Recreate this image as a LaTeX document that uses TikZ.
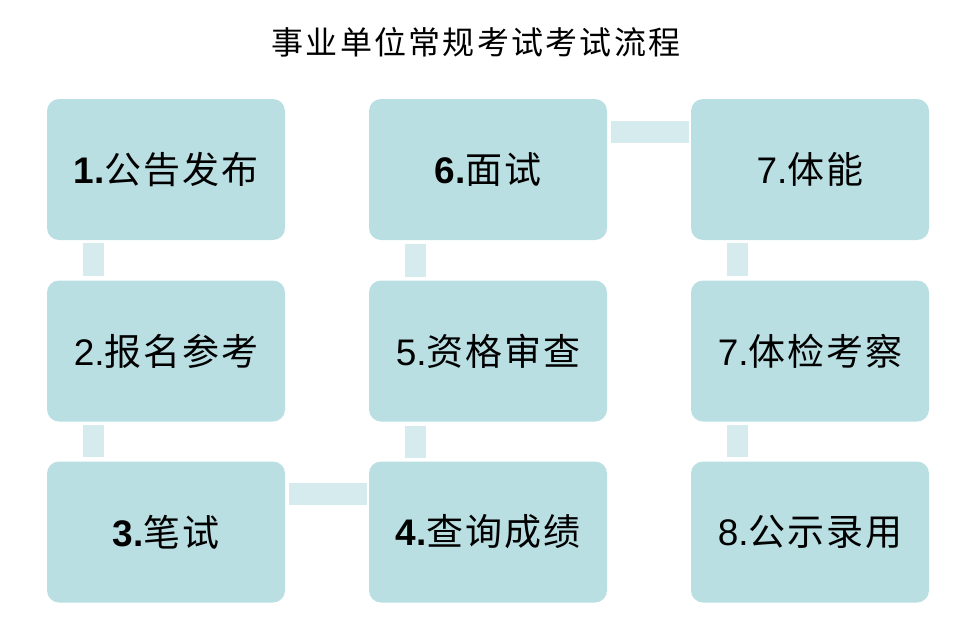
\documentclass[tikz,border=0pt]{standalone}
\usepackage{fontspec}
\setmainfont{Liberation Sans}
\newfontfamily\cjk{Noto Sans CJK SC}
\definecolor{boxfill}{HTML}{B9DFE3}
\definecolor{connfill}{HTML}{D5EBEE}
\begin{document}
\begin{tikzpicture}[x=1pt,y=-1pt,
  stepbox/.style={fill=boxfill, draw=none, rounded corners=12pt, minimum width=238pt, minimum height=141pt, inner sep=0pt, font=\fontsize{37}{40}\selectfont},
  vconn/.style={draw=connfill, line width=21pt, shorten <=3pt, shorten >=4pt},
  hconn/.style={draw=connfill, line width=22pt, shorten <=4pt, shorten >=2pt}]
\useasboundingbox (0,0) rectangle (961,619);
\node (title) at (476,42) {\cjk\fontsize{32}{36}\selectfont\addfontfeature{LetterSpace=7}事业单位常规考试考试流程};
\node[stepbox] (b1) at (166,169.5) {\textbf{1.}{\cjk\addfontfeature{LetterSpace=5} 公告发布}};
\node[stepbox] (b2) at (166,351) {2.{\cjk\addfontfeature{LetterSpace=5} 报名参考}};
\node[stepbox] (b3) at (166,532) {\textbf{3.}{\cjk\addfontfeature{LetterSpace=5} 笔试}};
\node[stepbox] (b4) at (488,532) {\textbf{4.}{\cjk\addfontfeature{LetterSpace=5} 查询成绩}};
\node[stepbox] (b5) at (488,351) {5.{\cjk\addfontfeature{LetterSpace=5} 资格审查}};
\node[stepbox] (b6) at (488,169.5) {\textbf{6.}{\cjk\addfontfeature{LetterSpace=5} 面试}};
\node[stepbox] (b7) at (810,169.5) {7.{\cjk\addfontfeature{LetterSpace=5} 体能}};
\node[stepbox] (b8) at (810,351) {7.{\cjk\addfontfeature{LetterSpace=5} 体检考察}};
\node[stepbox] (b9) at (810,532) {8.{\cjk\addfontfeature{LetterSpace=5} 公示录用}};
\draw[vconn] ([xshift=-72.5pt]b1.south) -- ([xshift=-72.5pt]b2.north);
\draw[vconn] ([xshift=-72.5pt]b2.south) -- ([xshift=-72.5pt]b3.north);
\draw[hconn] ([yshift=-32.5pt]b3.north east) -- ([yshift=-32.5pt]b4.north west);
\draw[vconn] ([xshift=-72.5pt]b4.north) -- ([xshift=-72.5pt]b5.south);
\draw[vconn] ([xshift=-72.5pt]b5.north) -- ([xshift=-72.5pt]b6.south);
\draw[hconn] ([yshift=-33pt]b6.north east) -- ([yshift=-33pt]b7.north west);
\draw[vconn] ([xshift=-72.5pt]b7.south) -- ([xshift=-72.5pt]b8.north);
\draw[vconn] ([xshift=-72.5pt]b8.south) -- ([xshift=-72.5pt]b9.north);
\end{tikzpicture}
\end{document}
